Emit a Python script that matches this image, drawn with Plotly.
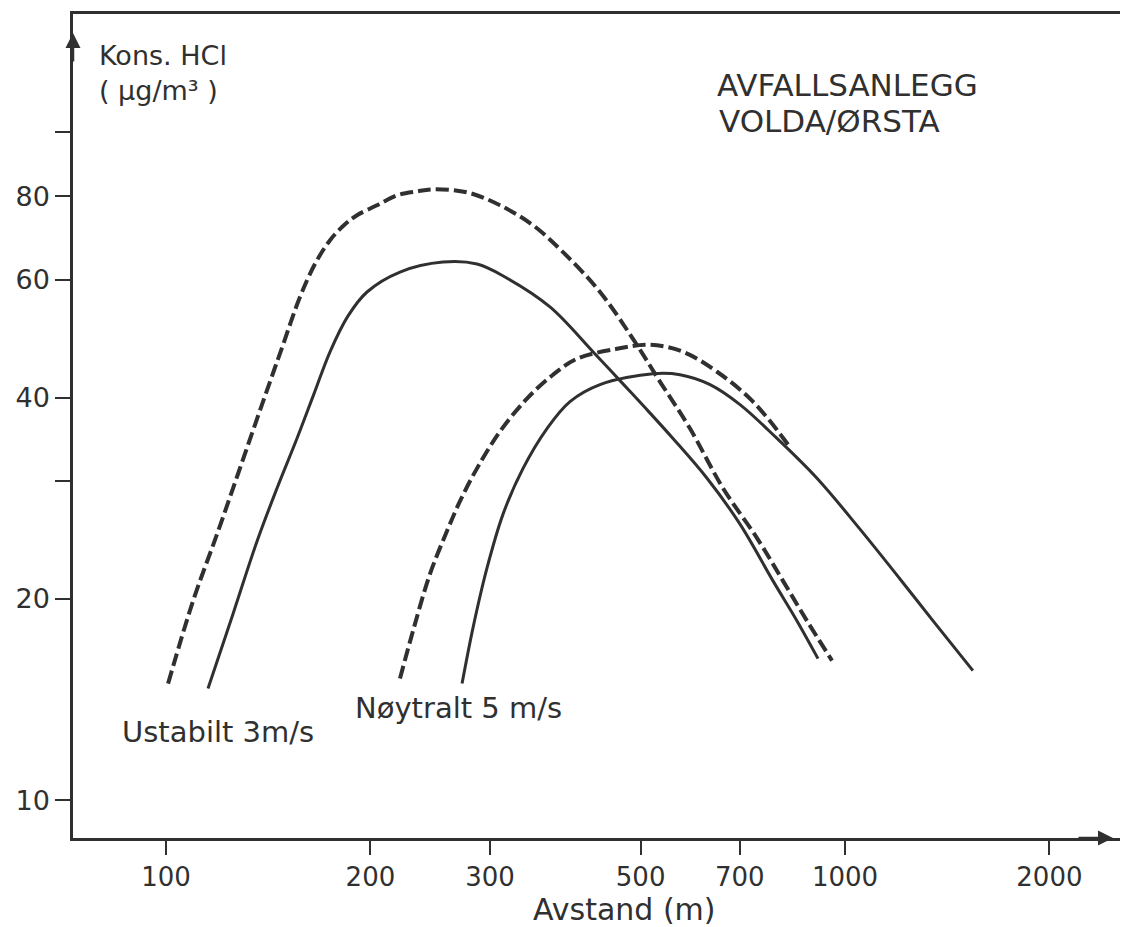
import plotly.graph_objects as go

# --- Data (distance m, concentration ug/m3) ---
ust_dash_x = [100.7, 109.6, 118.9, 127.6, 136.2, 142.3, 148.7, 157.5, 165.7, 174.4, 183.5,
              191.1, 204.5, 218.9, 234.2, 247.3, 277.5, 310.4, 347.1, 384.3, 435.7, 487.2, 533.9,
              591.2, 661.2, 742.0, 810.3, 879.1, 956.9]
ust_dash_y = [14.94, 19.86, 25.00, 30.72, 37.22, 42.26, 47.98, 56.57, 63.36, 68.80, 72.68,
              74.96, 77.58, 80.29, 81.39, 81.96, 81.11, 77.58, 72.43, 66.02, 57.55, 48.97, 42.26,
              35.96, 29.28, 24.66, 21.28, 18.54, 16.17]

ust_solid_x = [115.3, 125.5, 136.2, 145.7, 155.9, 165.2, 174.4, 185.4, 197.7, 221.1, 255.8, 287.1,
               315.7, 367.7, 425.4, 466.2, 507.5, 558.0, 626.3, 700.4, 783.3, 849.8, 912.5]
ust_solid_y = [14.69, 18.99, 24.41, 29.28, 34.75, 40.56, 46.84, 53.00, 57.55, 61.64, 63.79, 63.36,
               60.59, 54.66, 46.84, 42.41, 38.65, 34.75, 30.30, 25.87, 21.28, 18.54, 16.28]

noy_dash_x = [221.1, 231.1, 244.8, 259.3, 271.0, 287.1, 310.4, 340.1, 371.5, 403.0, 461.5, 516.1,
              577.3, 647.9, 732.0, 824.2]
noy_dash_y = [15.20, 17.92, 21.80, 25.26, 28.00, 31.35, 35.60, 39.86, 43.28, 45.73, 47.32, 47.98,
              46.84, 43.73, 39.45, 34.04]

noy_solid_x = [272.9, 283.2, 297.0, 313.6, 335.6, 364.0, 393.5, 435.7, 521.4, 571.5, 632.7, 700.4,
               788.7, 909.4, 1052, 1205, 1348, 1543]
noy_solid_y = [14.94, 18.10, 22.25, 26.78, 31.35, 35.96, 39.45, 41.83, 43.43, 43.28, 41.83, 39.05,
               34.99, 30.30, 25.43, 21.42, 18.54, 15.62]

x_tickvals = [100, 200, 300, 500, 700, 1000, 2000]
x_ticktext = ["100", "200", "300", "500", "700", "1000", "2000"]
y_tickvals = [10, 20, 30, 40, 60, 80, 100]
y_ticktext = ["10", "20", "", "40", "60", "80", ""]

INK = "#303030"
FONT = "DejaVu Sans"

fig = go.Figure()

def add_curve(xs, ys, dashed):
    fig.add_trace(go.Scatter(
        x=xs, y=ys, mode="lines",
        line=dict(color=INK, width=4 if dashed else 3,
                  dash="13px,5px" if dashed else "solid",
                  shape="spline", smoothing=1.0),
        showlegend=False, hoverinfo="skip"))

add_curve(ust_dash_x, ust_dash_y, True)
add_curve(ust_solid_x, ust_solid_y, False)
add_curve(noy_dash_x, noy_dash_y, True)
add_curve(noy_solid_x, noy_solid_y, False)

# page body has an 8px margin, so the figure is sized to fit the 1136x927 window
fig.update_layout(
    width=1128, height=919,
    margin=dict(l=65, r=16, t=3, b=89),
    paper_bgcolor="white", plot_bgcolor="white",
    font=dict(family=FONT, color=INK, size=26),
    showlegend=False,
)

fig.update_xaxes(
    type="log", range=[1.8630, 3.4050],
    tickvals=x_tickvals, ticktext=x_ticktext,
    ticks="outside", ticklen=14, tickwidth=2, tickcolor=INK,
    showline=True, linecolor=INK, linewidth=2.5, mirror=True,
    showgrid=False, zeroline=False,
    tickfont=dict(family=FONT, size=26, color=INK),
)
fig.update_yaxes(
    type="log", range=[0.94337, 2.17586],
    tickvals=y_tickvals, ticktext=y_ticktext,
    ticks="outside", ticklen=15, tickwidth=2, tickcolor=INK,
    showline=True, linecolor=INK, linewidth=2.5, mirror=False,
    showgrid=False, zeroline=False,
    tickfont=dict(family=FONT, size=27, color=INK),
)

def label(text, x, y, size, anchor="left"):
    fig.add_annotation(text=text, xref="paper", yref="paper", x=x, y=y,
                       xanchor=anchor, yanchor="middle", showarrow=False,
                       font=dict(family=FONT, size=size, color=INK))

label("Kons. HCl", 0.0229, 0.9492, 27)
label("( µg/m³ )", 0.0229, 0.9069, 27)
label("AVFALLSANLEGG", 0.6132, 0.9141, 31)
label("VOLDA/ØRSTA", 0.6151, 0.8706, 31)
label("Ustabilt 3m/s", 0.0449, 0.1282, 29)
label("Nøytralt 5 m/s", 0.2674, 0.1572, 29)
label("Avstand (m)", 0.5272, -0.0871, 30, anchor="center")

# axis arrowheads
fig.add_annotation(xref="paper", yref="paper", x=0, y=0.977, ax=0, ay=30,
                   showarrow=True, arrowhead=2, arrowsize=1.2, arrowwidth=2.5,
                   arrowcolor=INK, text="")
fig.add_annotation(xref="paper", yref="paper", x=0.9933, y=0, ax=-36, ay=0,
                   showarrow=True, arrowhead=2, arrowsize=1.2, arrowwidth=2.5,
                   arrowcolor=INK, text="")

fig.write_html("out.html")
